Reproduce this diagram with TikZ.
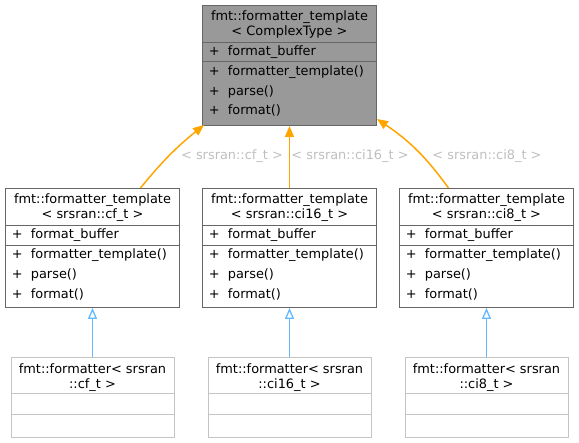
\documentclass[tikz,border=0pt]{standalone}
\usepackage{fontspec}
\setmainfont{DejaVu Sans}
\usetikzlibrary{arrows.meta}

\definecolor{clsborder}{HTML}{666666}
\definecolor{clsfill}{HTML}{999999}
\definecolor{fadeborder}{HTML}{C4C4C4}
\definecolor{inhorange}{HTML}{FFA500}
\definecolor{inhblue}{HTML}{63B8FF}
\definecolor{lblgray}{HTML}{BFBFBF}

\newcommand{\mem}[1]{\makebox[19pt][l]{+}#1}

\begin{document}
\begin{tikzpicture}[x=1pt, y=-1pt, font=\fontsize{12.9}{15}\selectfont,
    clsbox/.style={draw=clsborder, line width=1pt, fill=white, inner sep=0pt, anchor=north},
    fadebox/.style={clsbox, draw=fadeborder},
    sepline/.style={draw=clsborder, line width=1pt},
    fadeline/.style={draw=fadeborder, line width=1pt},
    title/.style={align=center, anchor=base, inner sep=0pt},
    member/.style={anchor=base west, inner sep=0pt},
    lbl/.style={text=lblgray, inner sep=0pt},
    inhtpl/.style={draw=inhorange, line width=1.5pt, -{Triangle[length=11pt, width=9pt]}},
    inhfmt/.style={draw=inhblue, line width=1.3pt, -{Triangle[open, length=11pt, width=9pt]}}]
    \useasboundingbox (0,0) rectangle (579,443);

    % Nodes
    \node[clsbox, fill=clsfill, minimum width=174pt, minimum height=120pt] (top) at (289.5,5) {};
    \draw[sepline] ([yshift=-38pt]top.north west) -- ([yshift=-38pt]top.north east);
    \draw[sepline] ([yshift=-57pt]top.north west) -- ([yshift=-57pt]top.north east);
    \node[title] (top-title) at ([yshift=-30.5pt]top.north) {fmt::formatter\_template\\< ComplexType >};
    \node[member] (top-buf) at ([xshift=6.7pt, yshift=-51pt]top.north west) {\mem{format\_buffer}};
    \node[member] (top-ctor) at ([xshift=6.7pt, yshift=-70.5pt]top.north west) {\mem{formatter\_template()}};
    \node[member] (top-parse) at ([xshift=6.7pt, yshift=-90.5pt]top.north west) {\mem{parse()}};
    \node[member] (top-format) at ([xshift=6.7pt, yshift=-110pt]top.north west) {\mem{format()}};

    \foreach \n/\cx/\lx/\tname in {cf/92.5/232/cf\_t, ci16/289.5/350/ci16\_t, ci8/486.5/487/ci8\_t} {
        % template instance
        \node[clsbox, minimum width=174pt, minimum height=119pt] (tmpl-\n) at (\cx,188) {};
        \draw[sepline] ([yshift=-38pt]tmpl-\n.north west) -- ([yshift=-38pt]tmpl-\n.north east);
        \draw[sepline] ([yshift=-58pt]tmpl-\n.north west) -- ([yshift=-58pt]tmpl-\n.north east);
        \node[title] (tmpl-\n-title) at ([yshift=-30.5pt]tmpl-\n.north) {fmt::formatter\_template\\< srsran::\tname{} >};
        \node[member] (tmpl-\n-buf) at ([xshift=6.7pt, yshift=-50.5pt]tmpl-\n.north west) {\mem{format\_buffer}};
        \node[member] (tmpl-\n-ctor) at ([xshift=6.7pt, yshift=-70.5pt]tmpl-\n.north west) {\mem{formatter\_template()}};
        \node[member] (tmpl-\n-parse) at ([xshift=6.7pt, yshift=-90.5pt]tmpl-\n.north west) {\mem{parse()}};
        \node[member] (tmpl-\n-format) at ([xshift=6.7pt, yshift=-110.5pt]tmpl-\n.north west) {\mem{format()}};

        % formatter
        \node[fadebox, minimum width=163pt, minimum height=80pt] (fmt-\n) at (\cx,357) {};
        \draw[fadeline] ([yshift=-37pt]fmt-\n.north west) -- ([yshift=-37pt]fmt-\n.north east);
        \draw[fadeline] ([yshift=-58pt]fmt-\n.north west) -- ([yshift=-58pt]fmt-\n.north east);
        \node[title] (fmt-\n-title) at ([yshift=-31.5pt]fmt-\n.north) {fmt::formatter< srsran\\::\tname{} >};

        % label
        \node[lbl] (lbl-\n) at (\lx,156) {< srsran::\tname{} >};

        % Connection
        \draw[inhfmt] (fmt-\n.north) -- (tmpl-\n.south);
    }

    % Connection
    \draw[inhtpl] ([xshift=48pt]tmpl-cf.north) to[bend left=6] ([xshift=2pt, yshift=1pt]top.south west);
    \draw[inhtpl] (tmpl-ci16.north) -- (top.south);
    \draw[inhtpl] ([xshift=-38pt]tmpl-ci8.north) to[bend right=10] ([yshift=7pt]top.south east);
\end{tikzpicture}
\end{document}
